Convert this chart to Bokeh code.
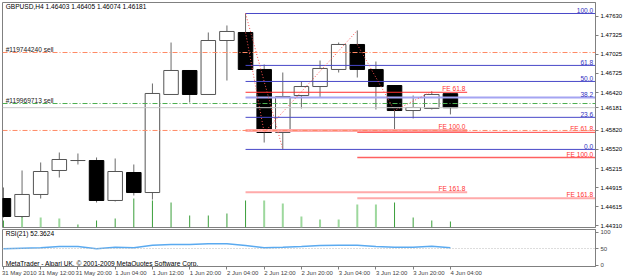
from bokeh.plotting import figure
from bokeh.models import Range1d, FixedTicker, Label, Span, NumeralTickFormatter, LinearAxis
from bokeh.layouts import column
from bokeh.embed import file_html
from bokeh.resources import INLINE
from bokeh.core.properties import value

FONT = "Liberation Sans"
TXT = "6.6px"

# ---------------- data ----------------
bars = list(range(25))
opens = [1.44742, 1.44457, 1.44806, 1.45186, 1.45344, 1.45344, 1.44711, 1.45154, 1.44837, 1.46390,
         1.46770, 1.46390, 1.47245, 1.47372, 1.46786, 1.45788, 1.46374, 1.46516, 1.46786, 1.47182,
         1.46786, 1.46532, 1.46136, 1.46168, 1.46403]
highs = [1.44917, 1.45186, 1.45313, 1.45471, 1.45455, 1.45392, 1.45376, 1.45281, 1.46564, 1.47213,
         1.46770, 1.47372, 1.47483, 1.47673, 1.46865, 1.46738, 1.46596, 1.46928, 1.47213, 1.47404,
         1.46912, 1.46532, 1.46374, 1.46437, 1.46405]
lows = [1.44441, 1.44441, 1.44742, 1.45075, 1.45281, 1.44679, 1.44695, 1.44790, 1.44726, 1.46390,
        1.46263, 1.46390, 1.46611, 1.46786, 1.45629, 1.45520, 1.46168, 1.46342, 1.46738, 1.46659,
        1.46152, 1.45835, 1.46010, 1.46152, 1.46074]
closes = [1.44457, 1.44806, 1.45170, 1.45360, 1.45344, 1.44711, 1.45170, 1.44837, 1.46406, 1.46770,
          1.46390, 1.47245, 1.47388, 1.46786, 1.45788, 1.46358, 1.46516, 1.46802, 1.47182, 1.46786,
          1.46516, 1.46136, 1.46184, 1.46390, 1.46181]
volumes = [700, 1300, 1000, 900, 300, 700, 900, 2900, 2700, 2500, 1200, 1200, 1400, 2700, 2700,
           2400, 1100, 800, 800, 2300, 2300, 2500, 1000, 700, 600]
volume_light = [0, 1, 1, 1, 0, 0, 0, 0, 0, 0, 0, 0, 0, 0, 1, 1, 1, 1, 1, 1, 1, 0, 0, 0, 0]
rsi = [49.1, 50.6, 52.1, 56.1, 56.1, 49.1, 53.9, 52.1, 60.0, 62.1, 62.1, 64.2, 64.2, 59.1, 52.1,
       53.9, 56.1, 59.1, 60.0, 60.0, 56.1, 53.9, 53.9, 57.0, 52.3624]

time_ticks = [0, 2, 4, 6, 8, 10, 12, 14, 16, 18, 20, 22, 24]
time_labels = ["31 May 2010", "31 May 12:00", "31 May 20:00", "1 Jun 04:00", "1 Jun 12:00",
               "1 Jun 20:00", "2 Jun 04:00", "2 Jun 12:00", "2 Jun 20:00", "3 Jun 04:00",
               "3 Jun 12:00", "3 Jun 20:00", "4 Jun 04:00"]
bid_price = 1.46181
price_ticks = [1.47630, 1.47325, 1.47025, 1.46725, 1.46420, bid_price, 1.45820, 1.45520,
               1.45215, 1.44915, 1.44615, 1.44310]
rsi_ticks = [0, 50, 100]

# Fibonacci retracement (from bar 13 high to bar 15 low)
fib_bar = 13
fib_high = 1.47673
fib_low = 1.45520
fib_ratios = [100.0, 61.8, 50.0, 38.2, 23.6, 0.0]
fib_labels = ["100.0", "61.8", "50.0", "38.2", "23.6", "0.0"]

# Fibonacci expansions (A, B, C points)
fe_ratios = [61.8, 100.0, 161.8]
fe_labels = ["FE 61.8", "FE 100.0", "FE 161.8"]
fe1_bars = [13, 14, 19]
fe1_prices = [1.47372, 1.45788, 1.47404]
fe1_end = 24.9
fe2_bars = [19, 21, 23]
fe2_prices = [1.47182, 1.46136, 1.46437]

# order / price lines
order1_price = 1.47055
order1_label = "#119744240 sell"
order1_sl = 1.45820
order2_price = 1.46247
order2_label = "#119969713 sell"

header = "GBPUSD,H4  1.46403 1.46405 1.46074 1.46181"
rsi_title = "RSI(21) 52.3624"
credit = "MetaTrader - Alpari UK, \u00a9 2001-2009 MetaQuotes Software Corp."

# ---------------- figures ----------------
x_start, x_end = -0.05, 31.79
y_bottom, y_top = 1.44283, 1.47847

p = figure(width=625, height=228, x_range=Range1d(x_start, x_end), y_range=Range1d(y_bottom, y_top),
           output_backend="svg", toolbar_location=None, y_axis_location="right",
           x_axis_location=None, min_border_left=2, min_border_right=28,
           min_border_top=2, min_border_bottom=1)
p.outline_line_color = "#808080"
p.grid.visible = False

ya = p.yaxis[0]
ya.ticker = FixedTicker(ticks=price_ticks)
ya.formatter = NumeralTickFormatter(format="0.00000")
ya.major_label_text_font = FONT
ya.major_label_text_font_size = "6px"
ya.major_label_text_color = "#000000"
ya.major_tick_out = 3
ya.major_tick_in = 0
ya.minor_tick_out = 0
ya.minor_tick_in = 0
ya.major_label_standoff = 2
ya.axis_line_color = "#808080"
ya.major_tick_line_color = "#808080"

# volumes
p.extra_y_ranges = {"vol": Range1d(0, 22500)}
vx_d = [b for b, l in zip(bars, volume_light) if not l]
vv_d = [v for v, l in zip(volumes, volume_light) if not l]
vx_l = [b for b, l in zip(bars, volume_light) if l]
vv_l = [v for v, l in zip(volumes, volume_light) if l]
p.segment(x0=vx_l, y0=[0] * len(vx_l), x1=vx_l, y1=vv_l, y_range_name="vol",
          line_color="#9dd89d", line_width=2)
p.segment(x0=vx_d, y0=[0] * len(vx_d), x1=vx_d, y1=vv_d, y_range_name="vol",
          line_color="#3a9e3a", line_width=1)

# candles
p.segment(x0=bars, y0=lows, x1=bars, y1=highs, line_color="#6a6a6a", line_width=1)
bull = [i for i in bars if closes[i] >= opens[i]]
bear = [i for i in bars if closes[i] < opens[i]]
p.vbar(x=bull, width=0.78, top=[closes[i] for i in bull], bottom=[opens[i] for i in bull],
       fill_color="white", line_color="#555555", line_width=1)
p.vbar(x=bear, width=0.78, top=[opens[i] for i in bear], bottom=[closes[i] for i in bear],
       fill_color="black", line_color="black", line_width=1)

# order lines
p.add_layout(Span(location=order1_price, dimension="width", line_color="#ff8a65",
                  line_dash="5 2 1 2", line_width=1))
p.add_layout(Span(location=order1_sl, dimension="width", line_color="#ff8a65",
                  line_dash="5 2 1 2", line_width=1))
p.add_layout(Span(location=order2_price, dimension="width", line_color="#4caf50",
                  line_dash="5 2 1 2", line_width=1))
p.add_layout(Span(location=bid_price, dimension="width", line_color="#c8c8c8", line_width=1))

# fibonacci retracement
fib_levels = [fib_low + r / 100.0 * (fib_high - fib_low) for r in fib_ratios]
fib_colors = ["#4848c8" if r != 38.2 else "#a4a4f2" for r in fib_ratios]
fib_widths = [1 if r != 38.2 else 2 for r in fib_ratios]
p.segment(x0=[fib_bar] * 6, y0=fib_levels, x1=[x_end] * 6, y1=fib_levels,
          line_color=fib_colors, line_width=fib_widths)
p.line(x=[fib_bar, 15], y=[fib_high, fib_low], line_color="#ff5050", line_dash="1 2", line_width=1)
p.text(x=[x_end - 0.12] * 6, y=fib_levels, text=fib_labels, text_align="right",
       text_baseline="bottom", text_font=value(FONT), text_font_size=TXT, text_color="#3030c0")

# fibonacci expansions
def fe_levels(prices):
    a, b, c = prices
    return [c - r / 100.0 * (a - b) for r in fe_ratios]

fe1 = fe_levels(fe1_prices)
fe2 = fe_levels(fe2_prices)
p.segment(x0=[fe1_bars[0]] * 3, y0=fe1, x1=[fe1_end] * 3, y1=fe1,
          line_color=["#ff3030", "#ffaaaa", "#ffaaaa"], line_width=[1, 3, 2])
p.segment(x0=[fe2_bars[0]] * 3, y0=fe2, x1=[x_end] * 3, y1=fe2,
          line_color=["#ff4040", "#ff6060", "#ffaaaa"], line_width=[1, 1.5, 2])
p.line(x=fe1_bars, y=fe1_prices, line_color="#ff5050", line_dash="1 2", line_width=1)
p.line(x=fe2_bars, y=fe2_prices, line_color="#ff5050", line_dash="1 2", line_width=1)
p.text(x=[fe1_end - 0.1] * 3, y=fe1, text=fe_labels, text_align="right", text_baseline="bottom",
       text_font=value(FONT), text_font_size=TXT, text_color="#ff3030")
p.text(x=[x_end - 0.12] * 3, y=fe2, text=fe_labels, text_align="right", text_baseline="bottom",
       text_font=value(FONT), text_font_size=TXT, text_color="#ff3030")

# texts
p.text(x=[0.12, 0.12], y=[order1_price, order2_price], text=[order1_label, order2_label],
       text_align="left", text_baseline="bottom", text_font=value(FONT), text_font_size=TXT,
       text_color="#202020")
p.text(x=[0.12], y=[y_top], text=[header], text_align="left", text_baseline="top",
       text_font=value(FONT), text_font_size=TXT, text_color="#000000")

# current price box over the axis
p.add_layout(Label(x=x_end, y=bid_price, x_offset=1, text="1.46181",
                   text_color="white", background_fill_color="black", text_baseline="middle",
                   text_align="left", text_font=FONT, text_font_size="6px", level="overlay"))

# ---------------- RSI panel ----------------
r = figure(width=625, height=50, x_range=p.x_range, y_range=Range1d(-4.5, 107.6),
           output_backend="svg", toolbar_location=None, y_axis_location="right",
           x_axis_location=None, min_border_left=2, min_border_right=28, min_border_top=1,
           min_border_bottom=0)
r.outline_line_color = "#808080"
r.grid.visible = False

ry = r.yaxis[0]
ry.ticker = FixedTicker(ticks=rsi_ticks)
ry.major_label_text_font = FONT
ry.major_label_text_font_size = "6px"
ry.major_tick_out = 3
ry.major_tick_in = 0
ry.minor_tick_out = 0
ry.minor_tick_in = 0
ry.major_label_standoff = 2
ry.axis_line_color = "#808080"
ry.major_tick_line_color = "#808080"

# time axis: tick marks at the bars, labels placed to the right of each tick
tick_axis = LinearAxis(ticker=FixedTicker(ticks=time_ticks), major_label_text_font_size="1px",
                       major_label_text_color=None, major_label_standoff=0, major_tick_out=3,
                       major_tick_in=0, minor_tick_out=0, minor_tick_in=0,
                       axis_line_color="#808080", major_tick_line_color="#808080")
label_shift = 0.85
label_pos = [t + label_shift for t in time_ticks]
label_axis = LinearAxis(ticker=FixedTicker(ticks=label_pos),
                        major_label_overrides={pp: l for pp, l in zip(label_pos, time_labels)},
                        major_label_text_font=FONT, major_label_text_font_size="6px",
                        major_label_standoff=0, major_tick_out=0, major_tick_in=0,
                        minor_tick_out=0, minor_tick_in=0, axis_line_color=None,
                        major_tick_line_color=None)
r.add_layout(tick_axis, "below")
r.add_layout(label_axis, "below")

r.add_layout(Span(location=50, dimension="width", line_color="#bbbbbb", line_dash="1 2",
                  line_width=1))
r.line(x=bars, y=rsi, line_color="#5aaaf0", line_width=1.5)
r.text(x=[0.12], y=[107.6], text=[rsi_title], text_align="left", text_baseline="top",
       text_font=value(FONT), text_font_size=TXT, text_color="#000000")
r.text(x=[0.12], y=[-4.5], text=[credit], text_align="left", text_baseline="bottom",
       text_font=value(FONT), text_font_size=TXT, text_color="#000000")

layout = column(p, r)
open("out.html", "w").write(file_html(layout, INLINE))
